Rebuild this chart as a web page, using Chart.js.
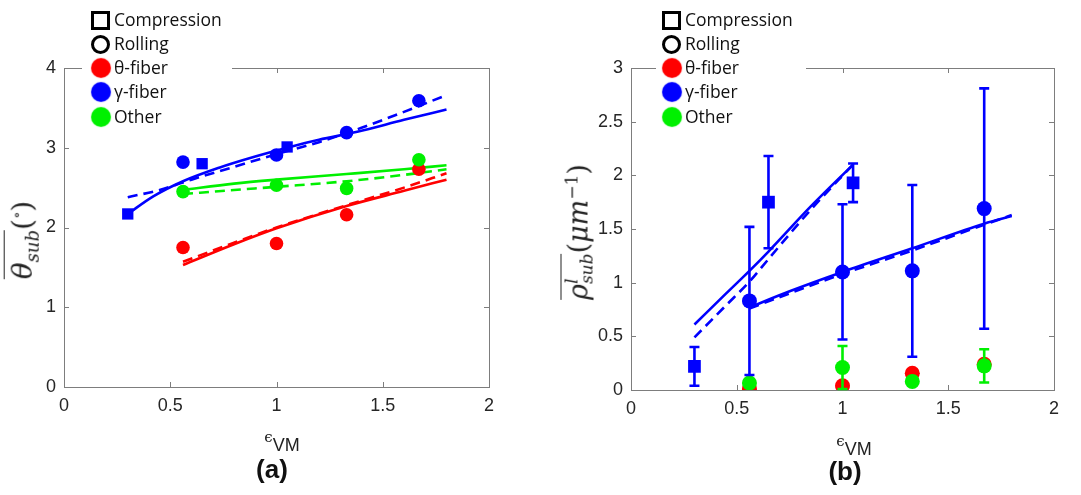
<!DOCTYPE html>
<html lang="en">
  <head>
    <meta charset="UTF-8" />
    <title>Subgrain misorientation and dislocation density vs strain</title>
    <style>
      body {
        margin: 0;
        width: 1081px;
        height: 495px;
        overflow: hidden;
        position: relative;
        background: #fff;
        font-family: Arial, "Liberation Sans", sans-serif;
      }
      .panel {
        position: absolute;
        top: 0;
        height: 495px;
      }
      #panelA { left: 0; width: 540px; }
      #panelB { left: 540px; width: 541px; }

      /* legend sits over the top axis line, like the MATLAB one */
      .legend {
        position: absolute;
        top: 0;
        width: 150px;
        height: 128px;
        background: #fff;
        font-family: "Open Sans", sans-serif;
        font-size: 17.5px;
        color: #111;
      }
      .legend .row {
        position: absolute;
        height: 24px;
        line-height: 24px;
        white-space: nowrap;
      }
      .legend .mk {
        position: absolute;
        left: 0;
        top: 3px;
        width: 19px;
        height: 19px;
        box-sizing: border-box;
      }
      .legend .txt { position: absolute; left: 23px; top: -1px; }
      .mk.sq { border: 3px solid #000; }
      .mk.ci { border: 3.5px solid #000; border-radius: 50%; }
      .mk.burst { border-radius: 50%; width: 18px; height: 18px; top: 3px; left: 1px; }

      .ytitle {
        position: absolute;
        transform: translate(-50%, -50%) rotate(-90deg);
        font-family: "DejaVu Serif", serif;
        font-style: italic;
        font-size: 28px;
        color: #222;
        white-space: nowrap;
      }
      .ov { border-top: 1.5px solid #222; padding-top: 1px; }
      .up { font-style: normal; }
      .xtitle {
        position: absolute;
        transform: translateX(-50%);
        color: #222;
        font-size: 18px;
        white-space: nowrap;
      }
      .xtitle .eps { font-family: "DejaVu Serif", serif; font-size: 15px; vertical-align: 9px; }
      .tag {
        position: absolute;
        transform: translateX(-50%);
        font-weight: bold;
        font-size: 26px;
        color: #111;
      }
    </style>
    <script src="https://cdn.jsdelivr.net/npm/chart.js"></script>
  </head>
  <body>
    <div id="panelA" class="panel"><canvas id="chartA"></canvas></div>
    <div id="panelB" class="panel"><canvas id="chartB"></canvas></div>

    <div class="legend" id="legendA" style="left: 82px"></div>
    <div class="legend" id="legendB" style="left: 656px"></div>

    <div class="ytitle" style="left: 24px; top: 240px">
      <span class="ov">&theta;<sub style="font-size: 18px">sub</sub></span><span class="up">(<sup style="font-size: 15px">&#8728;</sup>)</span>
    </div>
    <div class="ytitle" style="left: 578px; top: 232px; font-size: 27px">
      <span class="ov">&rho;<span style="display: inline-flex; flex-direction: column; font-size: 17px; line-height: 15px; vertical-align: 10px">
        <span>l</span><span>sub</span></span></span><span class="up">(</span>&mu;m<sup style="font-size: 17px"><span class="up">&minus;1</span></sup><span class="up">)</span>
    </div>

    <div class="xtitle" style="left: 282px; top: 428px"><span class="eps">&#1013;</span>VM</div>
    <div class="xtitle" style="left: 854px; top: 432px"><span class="eps">&#1013;</span>VM</div>
    <div class="tag" style="left: 272px; top: 454px">(a)</div>
    <div class="tag" style="left: 845px; top: 456px">(b)</div>

    <script>
      // ---- panel (a): mean subgrain misorientation ----
      const rollX = [0.56, 1.0, 1.33, 1.67];
      const compX = [0.3, 0.65, 1.05];

      const aGammaRoll = [2.82, 2.91, 3.19, 3.59];
      const aGammaComp = [2.17, 2.8, 3.01];
      const aOtherRoll = [2.45, 2.53, 2.49, 2.85];
      const aThetaRoll = [1.75, 1.8, 2.16, 2.73];

      const aGammaFitX = [0.3, 0.42, 0.56, 0.73, 0.9, 1.05, 1.2, 1.38, 1.6, 1.8];
      const aGammaFit = [2.17, 2.39, 2.58, 2.75, 2.89, 3.0, 3.1, 3.2, 3.35, 3.48];
      const aGammaDashX = [0.3, 0.45, 0.6, 0.8, 1.0, 1.2, 1.4, 1.6, 1.8];
      const aGammaDash = [2.38, 2.47, 2.6, 2.76, 2.92, 3.07, 3.25, 3.45, 3.66];

      const aFitX = [0.56, 0.8, 1.0, 1.33, 1.6, 1.8];
      const aOtherFit = [2.47, 2.55, 2.6, 2.67, 2.73, 2.78];
      const aOtherDash = [2.42, 2.47, 2.51, 2.58, 2.66, 2.73];
      const aThetaFit = [1.53, 1.79, 1.99, 2.27, 2.46, 2.6];
      const aThetaDash = [1.57, 1.81, 2.0, 2.28, 2.5, 2.68];

      // ---- panel (b): mean subgrain dislocation density ----
      const bGammaComp = [0.22, 1.75, 1.93];
      const bGammaCompErr = [0.18, 0.43, 0.18];
      const bGammaRoll = [0.83, 1.1, 1.11, 1.69];
      const bGammaRollErr = [0.69, 0.63, 0.8, 1.12];
      const bThetaRoll = [0.01, 0.04, 0.155, 0.24];
      const bOtherRoll = [0.065, 0.21, 0.08, 0.225];
      const bOtherRollErr = [0, 0.2, 0, 0.155];

      const bCompFitX = [0.3, 0.45, 0.56, 0.65, 0.85, 1.05];
      const bCompFit = [0.61, 0.9, 1.11, 1.29, 1.71, 2.1];
      const bCompDash = [0.49, 0.79, 1.01, 1.22, 1.68, 2.1];
      const bRollFitX = [0.56, 0.75, 1.0, 1.33, 1.67, 1.8];
      const bRollFit = [0.77, 0.92, 1.1, 1.32, 1.55, 1.62];
      const bRollDash = [0.76, 0.9, 1.08, 1.3, 1.54, 1.63];

      const BLUE = "#0000ff";
      const RED = "#ff0000";
      const GREEN = "#00f000";

      function pts(xs, ys) {
        return xs.map((x, i) => ({ x: x, y: ys[i] }));
      }

      function markers(xs, ys, color, style, radius, order, err) {
        return {
          data: pts(xs, ys),
          showLine: false,
          pointStyle: style,
          pointRadius: radius,
          backgroundColor: color,
          borderColor: color,
          borderWidth: 0,
          errors: err,
          order: order,
        };
      }

      function fitLine(xs, ys, color, dashed) {
        return {
          data: pts(xs, ys),
          showLine: true,
          pointRadius: 0,
          borderColor: color,
          borderWidth: 2.6,
          borderDash: dashed ? [10, 6] : [],
          cubicInterpolationMode: "monotone",
          order: 20,
        };
      }

      // MATLAB-like box with inward ticks on all four sides
      const boxPlugin = {
        id: "box",
        beforeDatasetsDraw(chart) {
          const { ctx, chartArea: a, scales } = chart;
          ctx.save();
          ctx.strokeStyle = "#7d7d7d";
          ctx.lineWidth = 1;
          ctx.strokeRect(a.left + 0.5, a.top + 0.5, a.right - a.left, a.bottom - a.top);
          ctx.beginPath();
          scales.x.ticks.forEach((t) => {
            const px = Math.round(scales.x.getPixelForValue(t.value)) + 0.5;
            ctx.moveTo(px, a.bottom);
            ctx.lineTo(px, a.bottom - 5);
            ctx.moveTo(px, a.top);
            ctx.lineTo(px, a.top + 5);
          });
          scales.y.ticks.forEach((t) => {
            const py = Math.round(scales.y.getPixelForValue(t.value)) + 0.5;
            ctx.moveTo(a.left, py);
            ctx.lineTo(a.left + 5, py);
            ctx.moveTo(a.right, py);
            ctx.lineTo(a.right - 5, py);
          });
          ctx.stroke();
          ctx.restore();
        },
      };

      // vertical error bars with caps, drawn just under their own markers
      const errorBarPlugin = {
        id: "errorBars",
        beforeDatasetDraw(chart, args) {
          const ds = chart.data.datasets[args.index];
          if (!ds.errors) return;
          const { ctx, scales } = chart;
          ctx.save();
          ctx.strokeStyle = ds.borderColor;
          ctx.lineWidth = 2.6;
          ds.data.forEach((p, i) => {
            const e = ds.errors[i];
            const px = scales.x.getPixelForValue(p.x);
            const top = scales.y.getPixelForValue(p.y + e);
            const bot = scales.y.getPixelForValue(p.y - e);
            ctx.beginPath();
            ctx.moveTo(px, top);
            ctx.lineTo(px, bot);
            ctx.moveTo(px - 5, top);
            ctx.lineTo(px + 5, top);
            ctx.moveTo(px - 5, bot);
            ctx.lineTo(px + 5, bot);
            ctx.stroke();
          });
          ctx.restore();
        },
      };

      // "0", "0.5", "1" ... instead of "1.0", "2.0"
      const plainNum = (v) => String(Number(v.toFixed(2)));

      function setupChart(id, datasets, yMax, yWidth, xHeight, padRight) {
        const tickFont = { family: "Arial, 'Liberation Sans', sans-serif", size: 18 };
        return new Chart(document.getElementById(id), {
          type: "scatter",
          data: { datasets: datasets },
          options: {
            responsive: true,
            maintainAspectRatio: false,
            animation: false,
            layout: { padding: { top: 68, right: padRight, left: 0, bottom: 0 } },
            plugins: { legend: { display: false }, tooltip: { enabled: false } },
            scales: {
              x: {
                type: "linear",
                min: 0,
                max: 2,
                ticks: { stepSize: 0.5, font: tickFont, color: "#262626", padding: 8, maxRotation: 0, callback: plainNum },
                grid: { display: false, drawTicks: false },
                border: { display: false },
                afterFit: (s) => { s.height = xHeight; },
              },
              y: {
                min: 0,
                max: yMax,
                ticks: { stepSize: yMax === 4 ? 1 : 0.5, font: tickFont, color: "#262626", padding: 8, callback: plainNum },
                grid: { display: false, drawTicks: false },
                border: { display: false },
                afterFit: (s) => { s.width = yWidth; },
              },
            },
          },
          plugins: [boxPlugin, errorBarPlugin],
        });
      }

      setupChart(
        "chartA",
        [
          fitLine(aGammaFitX, aGammaFit, BLUE, false),
          fitLine(aGammaDashX, aGammaDash, BLUE, true),
          fitLine(aFitX, aOtherFit, GREEN, false),
          fitLine(aFitX, aOtherDash, GREEN, true),
          fitLine(aFitX, aThetaFit, RED, false),
          fitLine(aFitX, aThetaDash, RED, true),
          markers(rollX, aThetaRoll, RED, "circle", 6.8, 3),
          markers(rollX, aOtherRoll, GREEN, "circle", 6.8, 2),
          markers(rollX, aGammaRoll, BLUE, "circle", 6.8, 1),
          markers(compX, aGammaComp, BLUE, "rect", 8, 1),
        ],
        4, 64, 108, 51
      );

      setupChart(
        "chartB",
        [
          fitLine(bCompFitX, bCompFit, BLUE, false),
          fitLine(bCompFitX, bCompDash, BLUE, true),
          fitLine(bRollFitX, bRollFit, BLUE, false),
          fitLine(bRollFitX, bRollDash, BLUE, true),
          markers(rollX, bThetaRoll, RED, "circle", 7.5, 4),
          markers(rollX, bOtherRoll, GREEN, "circle", 7.5, 3, bOtherRollErr),
          markers(rollX, bGammaRoll, BLUE, "circle", 7.5, 2, bGammaRollErr),
          markers(compX, bGammaComp, BLUE, "rect", 9, 1, bGammaCompErr),
        ],
        3, 91, 105, 27
      );

      // legends (same content in both panels)
      const legendItems = [
        { label: "Compression", cls: "sq", color: null },
        { label: "Rolling", cls: "ci", color: null },
        { label: "θ-fiber", cls: "burst", color: RED },
        { label: "γ-fiber", cls: "burst", color: BLUE },
        { label: "Other", cls: "burst", color: GREEN },
      ];
      const rowTops = [8, 32, 56, 80, 105];
      const rowLeft = { legendA: 9, legendB: 6 };
      ["legendA", "legendB"].forEach((id) => {
        const box = document.getElementById(id);
        legendItems.forEach((it, i) => {
          const row = document.createElement("div");
          row.className = "row";
          row.style.top = rowTops[i] + "px";
          row.style.left = rowLeft[id] + "px";
          const mk = document.createElement("span");
          mk.className = "mk " + it.cls;
          if (it.color) {
            mk.style.background = it.color;
            mk.style.boxShadow = "0 0 1px 1px " + it.color;
          }
          const txt = document.createElement("span");
          txt.className = "txt";
          txt.textContent = it.label;
          row.appendChild(mk);
          row.appendChild(txt);
          box.appendChild(row);
        });
      });
    </script>
  </body>
</html>
